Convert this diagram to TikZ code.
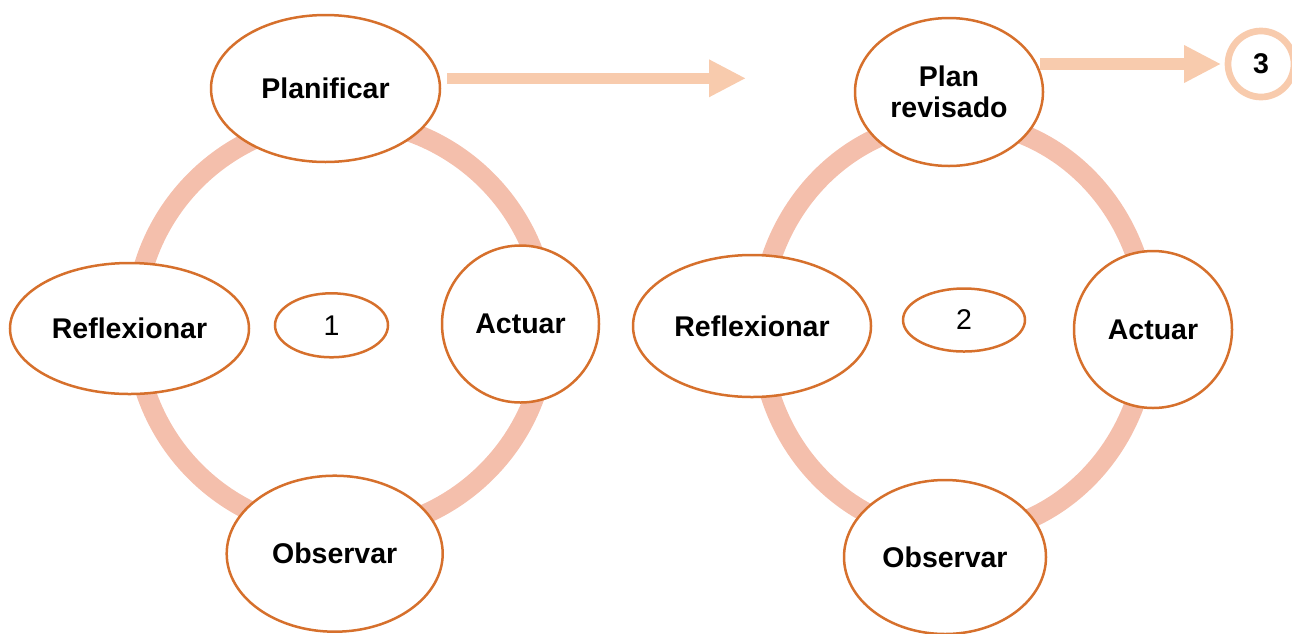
\documentclass[tikz,border=0pt]{standalone}
\usepackage{fontspec}
\setmainfont{Liberation Sans}
\usetikzlibrary{shapes.geometric,arrows.meta}
\definecolor{ringc}{RGB}{244,191,172}
\definecolor{edgec}{RGB}{214,112,44}
\definecolor{arrc}{RGB}{248,203,173}
\begin{document}
\begin{tikzpicture}[x=1pt,y=-1pt,
  stage/.style={ellipse, draw=edgec, line width=2.5pt, fill=white, inner sep=0pt,
    font=\fontsize{28.5}{31}\selectfont\bfseries, align=center},
  numb/.style={ellipse, draw=edgec, line width=2.5pt, fill=white, inner sep=0pt,
    font=\fontsize{28.5}{31}\selectfont},
  band/.style={draw=ringc, line width=20pt},
  flow/.style={draw=arrc, line width=11.3pt, -{Triangle[length=37pt,width=35pt]}}]
\useasboundingbox (0,0) rectangle (1292,633);
% rings
\draw[band] (341,326) circle[radius=206];
\draw[band] (954,328) ellipse[x radius=194, y radius=207];
% cycle 1
\node[stage, minimum width=229pt, minimum height=147pt] (plan1) at (325.5,88.5) {Planificar};
\node[stage, minimum width=157pt, minimum height=157pt] (act1) at (520.5,324) {Actuar};
\node[stage, minimum width=239pt, minimum height=131pt] (ref1) at (129.5,328.5) {Reflexionar};
\node[stage, minimum width=216pt, minimum height=156pt] (obs1) at (334.7,553.7) {Observar};
\node[numb, minimum width=113pt, minimum height=64pt] (n1) at (331.5,325.3) {1};
% cycle 2
\node[stage, minimum width=188pt, minimum height=148pt] (rev2) at (949,92) {Plan\\revisado};
\node[stage, minimum width=158pt, minimum height=157pt] (act2) at (1153,329.5) {Actuar};
\node[stage, minimum width=238pt, minimum height=142pt] (ref2) at (752,326) {Reflexionar};
\node[stage, minimum width=202pt, minimum height=154pt] (obs2) at (945,557) {Observar};
\node[numb, minimum width=122pt, minimum height=63pt] (n2) at (964,320) {2};
% next cycle
\node[circle, draw=arrc, line width=6.7pt, fill=white, minimum size=66pt, inner sep=0pt,
  font=\fontsize{28.5}{31}\selectfont\bfseries] (three) at (1261,64) {3};
% arrows
\coordinate (tip1) at (746,78.3);
\draw[flow] ([shift={(6,-10.2)}]plan1.east) -- (tip1);
\draw[flow, shorten >=3.5pt] ([xshift=-4pt]rev2.east |- three.west) -- (three.west);
\end{tikzpicture}
\end{document}
